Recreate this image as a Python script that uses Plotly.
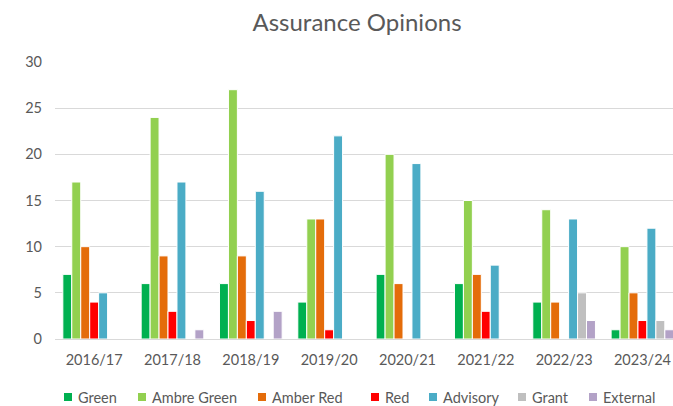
import plotly.graph_objects as go

years = ['2016/17', '2017/18', '2018/19', '2019/20', '2020/21', '2021/22', '2022/23', '2023/24']

green = [7, 6, 6, 4, 7, 6, 4, 1]
ambre_green = [17, 24, 27, 13, 20, 15, 14, 10]
amber_red = [10, 9, 9, 13, 6, 7, 4, 5]
red = [4, 3, 2, 1, 0, 3, 0, 2]
advisory = [5, 17, 16, 22, 19, 8, 13, 12]
grant = [0, 0, 0, 0, 0, 0, 5, 2]
external = [0, 1, 3, 0, 0, 0, 2, 1]

series = [
    ('Green', green, '#00b050'),
    ('Ambre Green', ambre_green, '#92d050'),
    ('Amber Red', amber_red, '#e46c0a'),
    ('Red', red, '#ff0000'),
    ('Advisory', advisory, '#4bacc6'),
    ('Grant', grant, '#bfbfbf'),
    ('External', external, '#b3a2c7'),
]

W, H = 673, 406
L, T, B = 55, 62, 67
pw, ph = W - L, H - T - B
font_col = '#595959'

fig = go.Figure()
for name, vals, col in series:
    fig.add_trace(go.Bar(x=years, y=vals, name=name, showlegend=False,
                         marker=dict(color=col, line=dict(color='white', width=1))))

# legend drawn by hand so that it fits on one line like the original
legend_x = [76, 150, 270, 383, 441, 530, 601]
legend_y = H - 9
for (name, vals, col), tx in zip(series, legend_x):
    fig.add_shape(type='rect', xref='paper', yref='paper',
                  x0=(tx - 12 - L) / pw, x1=(tx - 4 - L) / pw,
                  y0=(H - B - legend_y - 4) / ph, y1=(H - B - legend_y + 4) / ph,
                  fillcolor=col, line_width=0)
    fig.add_annotation(text=name, xref='paper', yref='paper',
                       x=(tx - L) / pw, y=(H - B - legend_y) / ph,
                       xanchor='left', yanchor='middle', showarrow=False,
                       font=dict(size=14.5, color=font_col))

fig.update_layout(
    width=W, height=H,
    margin=dict(l=L, r=0, t=T, b=B),
    paper_bgcolor='white', plot_bgcolor='white',
    font=dict(family='Lato', size=14.5, color=font_col),
    title=dict(text='Assurance Opinions', x=357 / W, xanchor='center',
               y=1 - 23 / H, yanchor='middle',
               font=dict(size=24, color=font_col)),
    barmode='group', bargap=0.2, bargroupgap=0,
    showlegend=False,
)
fig.update_xaxes(range=[-0.5, 7.39], showline=True, linecolor='#d9d9d9', linewidth=1,
                 ticks='', showgrid=False, ticklabelstandoff=8)
fig.update_yaxes(range=[0, 30], dtick=5, showgrid=True, gridcolor='#d9d9d9', gridwidth=1,
                 zeroline=False, ticks='', ticklabelstandoff=12)

# page body has a default 8px margin, drop it so the chart sits at the window corner
fig.write_html("out.html", config={'displayModeBar': False},
               post_script="document.body.style.margin='0';")
